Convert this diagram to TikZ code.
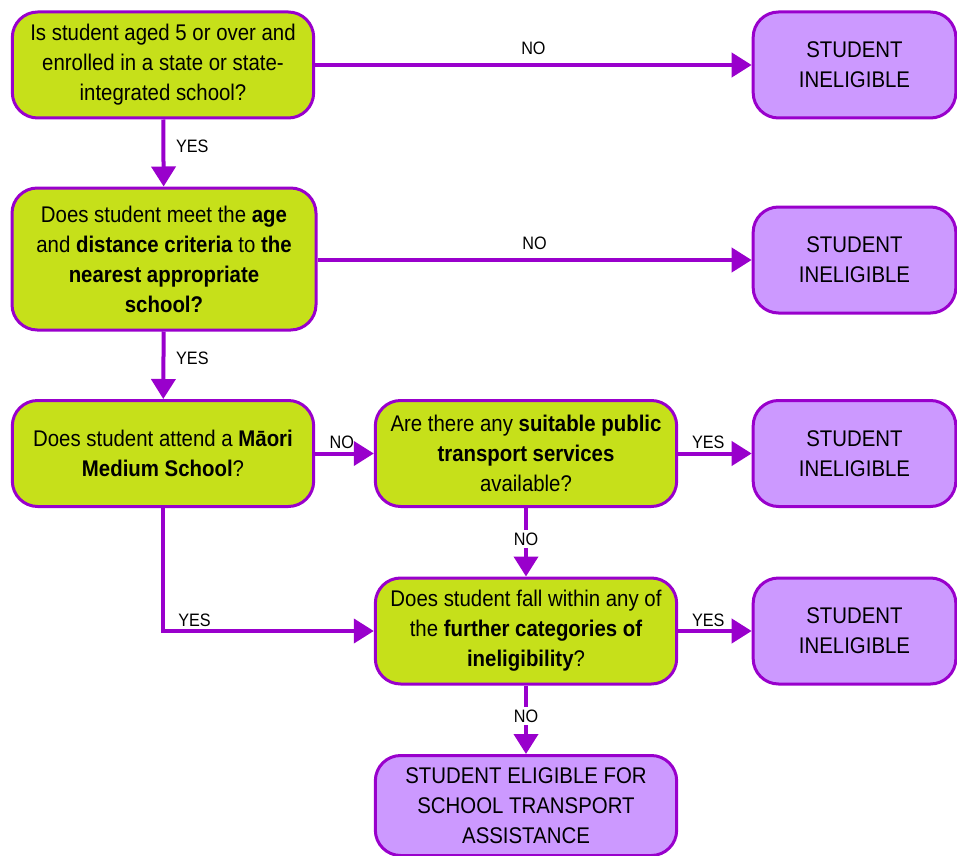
\documentclass[tikz,border=0pt]{standalone}
\usepackage{fontspec}
\setmainfont{Liberation Sans}[FakeStretch=0.9]
\usepackage{xcolor}
\usetikzlibrary{arrows.meta,positioning}

\definecolor{qgreen}{RGB}{198,224,26}
\definecolor{lineviolet}{RGB}{153,0,204}
\definecolor{outlilac}{RGB}{204,153,255}

\begin{document}
\begin{tikzpicture}[x=0.75pt,y=-0.75pt]
            \tikzset{question/.style = {draw=lineviolet, fill=qgreen, line width=2.25pt, rounded corners=19pt,
                minimum width=226pt, minimum height=79.5pt, align=center, inner sep=2pt,
                font=\fontsize{17}{22.5}\selectfont}}
            \tikzset{outcome/.style = {question, fill=outlilac, minimum width=152pt}}
            \tikzset{flow/.style = {draw=lineviolet, line width=3pt, -{Triangle[length=15pt,width=18pt]}}}
            \tikzset{answer/.style = {font=\fontsize{13.5}{15}\selectfont, inner sep=2pt}}
            \useasboundingbox (0,0) rectangle (957,856);

            % questions
            \node[question] (q1) at (163,65) {Is student aged 5 or over and\\enrolled in a state or state-\\integrated school?};
            \node[question, minimum width=228pt, minimum height=106.5pt] (q2) at (164,259) {Does student meet the \textbf{age}\\and \textbf{distance criteria} to \textbf{the}\\\textbf{nearest appropriate}\\\textbf{school?}};
            \node[question] (q3) at (163,453.5) {Does student attend a \textbf{Māori}\\\textbf{Medium School}?};
            \node[question] (q4) at (526,453.5) {Are there any \textbf{suitable public}\\\textbf{transport services}\\available?};
            \node[question] (q5) at (526,631) {Does student fall within any of\\the \textbf{further categories of}\\\textbf{ineligibility}?};

            % outcomes
            \foreach \n/\y in {1/65,2/260,3/453.5,4/631}
            {
              \node[outcome] (out\n) at (854.5,\y) {STUDENT\\INELIGIBLE};
            }
            \node[outcome, minimum width=226pt, minimum height=75pt] (elig) at (526,805.5) {STUDENT ELIGIBLE FOR\\SCHOOL TRANSPORT\\ASSISTANCE};

            % arrows
            \draw[flow] (q1) -- node[answer, above, yshift=4pt] {NO} (out1);
            \draw[flow] (q2.east |- out2) -- node[answer, above, yshift=4pt] {NO} (out2);
            \draw[flow] (q1) -- node[answer, right, pos=0.4, xshift=6pt] {YES} (q2);
            \draw[flow] (q2) -- node[answer, right, pos=0.4, xshift=6pt] {YES} (q3);
            \draw[flow] (q3) -- node[answer, above, xshift=-2pt] {NO} (q4);
            \draw[flow] (q4) -- node[answer, above, xshift=-5pt] {YES} (out3);
            \draw[flow] (q5) -- node[answer, above, xshift=-5pt] {YES} (out4);
            \draw[flow] (q4) -- node[answer, fill=white, pos=0.45] {NO} (q5);
            \draw[flow] (q5) -- node[answer, fill=white, pos=0.45] {NO} (elig);
            \draw[flow] (q3.south) |- node[answer, above right, pos=0.5, xshift=8pt] {YES} (q5.west);

          \end{tikzpicture}
\end{document}
